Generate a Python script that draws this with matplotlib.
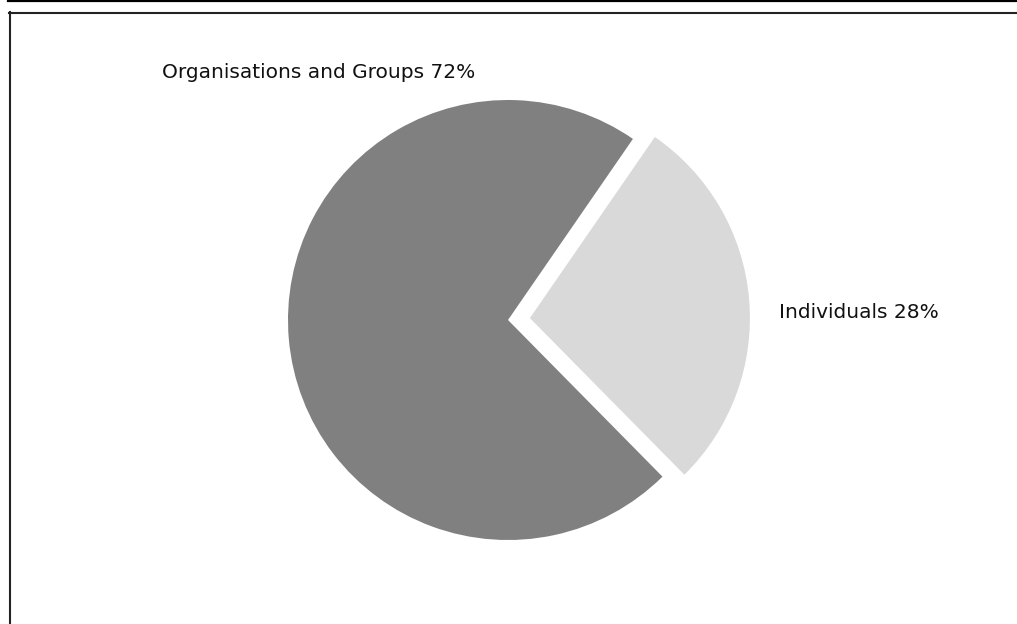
import matplotlib
matplotlib.use("Agg")
import matplotlib.pyplot as plt
from matplotlib.lines import Line2D

# Share of funding recipients
categories = ["Organisations and Groups", "Individuals"]
shares = [72, 28]
colors = ["#808080", "#d9d9d9"]

W, H, DPI = 1017, 624, 100
fig = plt.figure(figsize=(W / DPI, H / DPI), dpi=DPI)
fig.patch.set_facecolor("white")

# pie of radius 1 centred at pixel (508, 320), 220 px per unit
cx, cy, r = 508, 320, 220
ax = fig.add_axes([0, 0, 1, 1])

ax.pie(shares, colors=colors, startangle=55.4, counterclock=True,
       explode=[0, 0.1], radius=1.0, center=(0, 0), frame=True,
       wedgeprops=dict(linewidth=0))
ax.set_xlim((0 - cx) / r, (W - cx) / r)
ax.set_ylim((cy - H) / r, (cy - 0) / r)
ax.set_aspect("auto")
ax.axis("off")

label_pos = [(-1.573, 1.123), (1.232, 0.032)]
for name, val, (lx, ly) in zip(categories, shares, label_pos):
    ax.text(lx, ly, f"{name} {val}%", ha="left", va="center",
            fontsize=14.5, family="DejaVu Sans", color="#111111")

# outer frame lines
def fx(x):
    return x / W

def fy(y):
    return 1 - y / H

fig.add_artist(Line2D([fx(8), 1], [fy(0.8)] * 2,
                      color="black", lw=1.6, transform=fig.transFigure))
fig.add_artist(Line2D([fx(9), 1], [fy(12.5)] * 2,
                      color="#222222", lw=1.5, transform=fig.transFigure))
fig.add_artist(Line2D([fx(9.5)] * 2, [fy(12), 0],
                      color="#222222", lw=1.5, transform=fig.transFigure))

fig.savefig("out.png", dpi=DPI, facecolor="white")
